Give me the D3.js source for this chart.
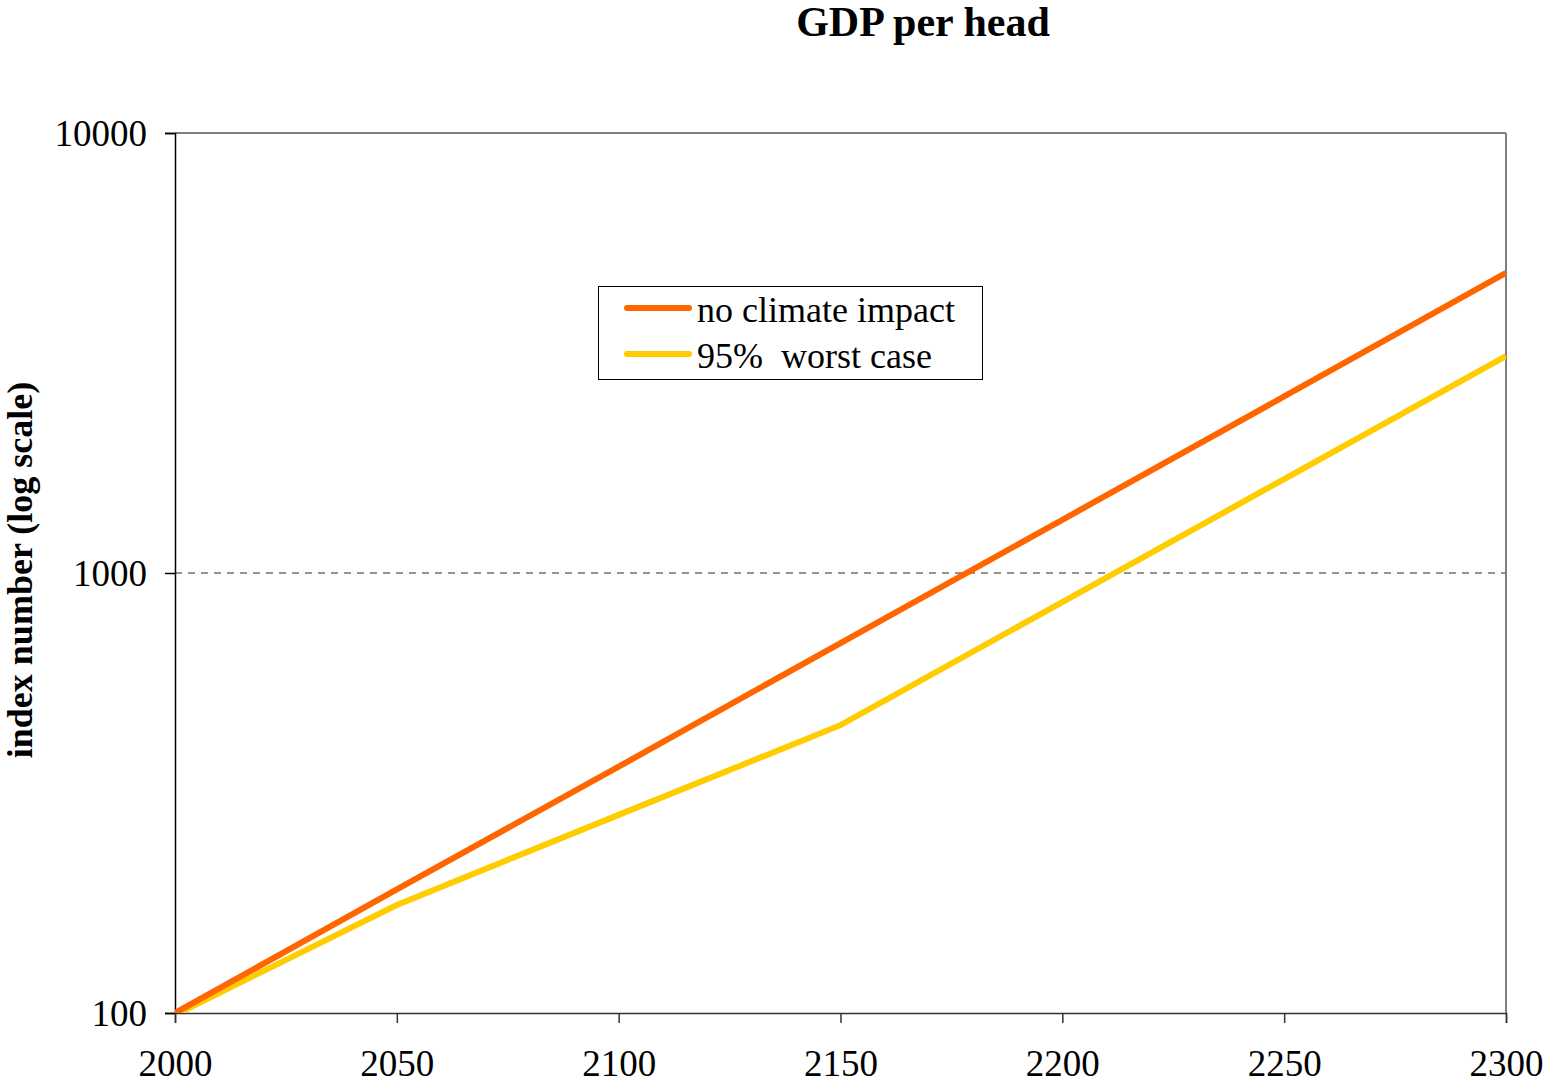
<!DOCTYPE html>
<html>
<head>
<meta charset="utf-8">
<script src="https://cdn.jsdelivr.net/npm/d3@7"></script>
<style>
  html, body { margin: 0; padding: 0; background: #fff; }
  svg { display: block; }
  text { font-family: "Liberation Serif", "Times New Roman", serif; fill: #000; }
</style>
</head>
<body>
<svg id="chart" width="1546" height="1086"></svg>
<script>
// GDP per head index (2000 = 100), log scale
const years = [2000, 2050, 2100, 2150, 2200, 2250, 2300];
const noClimateImpact = [100, 191, 363, 693, 1321, 2519, 4808];
const worstCase95 = [99, 176, 282, 451, 859, 1635, 3113];
const seriesNames = ["no climate impact", "95%\u00a0 worst case"];
const seriesColors = ["#FF6600", "#FFCC00"];
const xTicks = [2000, 2050, 2100, 2150, 2200, 2250, 2300];
const yTicks = [100, 1000, 10000];

const svg = d3.select("#chart");
const m = { left: 175, right: 1506, top: 133, bottom: 1013 };

const x = d3.scaleLinear().domain([2000, 2300]).range([m.left, m.right]);
const y = d3.scaleLog().domain([100, 10000]).range([m.bottom, m.top]);

// title
svg.append("text")
  .attr("x", 923).attr("y", 36)
  .attr("text-anchor", "middle")
  .style("font-size", "42px").style("font-weight", "bold")
  .text("GDP per head");

// y axis label
svg.append("text")
  .attr("transform", "translate(32,570) rotate(-90)")
  .attr("text-anchor", "middle")
  .style("font-size", "36px").style("font-weight", "bold")
  .text("index number (log scale)");

// plot frame: top and right edges in grey
svg.append("line").attr("x1", m.left).attr("x2", m.right).attr("y1", m.top).attr("y2", m.top)
  .attr("stroke", "#808080").attr("stroke-width", 2);
svg.append("line").attr("x1", m.right).attr("x2", m.right).attr("y1", m.top).attr("y2", m.bottom)
  .attr("stroke", "#808080").attr("stroke-width", 2);

// dashed gridline at 1000
svg.append("line")
  .attr("x1", m.left).attr("x2", m.right)
  .attr("y1", y(1000)).attr("y2", y(1000))
  .attr("stroke", "#707070").attr("stroke-width", 1.3)
  .attr("stroke-dasharray", "7,6");

// axes
const yAxis = d3.axisLeft(y).tickValues(yTicks).tickFormat(d3.format("d")).tickSizeOuter(0).tickSize(10).tickPadding(18);
const gy = svg.append("g").attr("transform", `translate(${m.left},0)`).call(yAxis);
gy.select(".domain").attr("stroke", "#000").attr("stroke-width", 1.5);
gy.selectAll(".tick line").attr("stroke", "#000").attr("stroke-width", 1.5);
gy.selectAll(".tick text").style("font-size", "37px").style("font-family", "Liberation Serif, serif").attr("dy", "0.35em");

const xAxis = d3.axisBottom(x).tickValues(xTicks).tickFormat(d3.format("d")).tickSizeOuter(0).tickSize(10).tickPadding(20);
const gx = svg.append("g").attr("transform", `translate(0,${m.bottom})`).call(xAxis);
gx.select(".domain").attr("stroke", "#333").attr("stroke-width", 1.5);
gx.selectAll(".tick line").attr("stroke", "#333").attr("stroke-width", 1.5);
gx.selectAll(".tick text").style("font-size", "37px").style("font-family", "Liberation Serif, serif").attr("dy", "0.9em");

// clip lines to the plot area
svg.append("clipPath").attr("id", "plotClip")
  .append("rect").attr("x", m.left).attr("y", m.top)
  .attr("width", m.right - m.left).attr("height", m.bottom - m.top);

const line = d3.line().x(d => x(d[0])).y(d => y(d[1]));
const series = [noClimateImpact, worstCase95];
const plot = svg.append("g").attr("clip-path", "url(#plotClip)");
// draw worst case first, then no-impact on top
[1, 0].forEach(i => {
  plot.append("path")
    .datum(years.map((yr, k) => [yr, series[i][k]]))
    .attr("d", line)
    .attr("fill", "none")
    .attr("stroke", seriesColors[i])
    .attr("stroke-width", 6);
});

// legend
const lg = svg.append("g");
lg.append("rect").attr("x", 598.5).attr("y", 286.5).attr("width", 384).attr("height", 93)
  .attr("fill", "#fff").attr("stroke", "#000").attr("stroke-width", 1);
seriesNames.forEach((name, i) => {
  const cy = 308 + i * 46;
  lg.append("line").attr("x1", 627).attr("x2", 689).attr("y1", cy).attr("y2", cy)
    .attr("stroke", seriesColors[i]).attr("stroke-width", 6).attr("stroke-linecap", "round");
  lg.append("text").attr("x", 697).attr("y", cy + 14)
    .style("font-size", "36px").text(name);
});
</script>
</body>
</html>
